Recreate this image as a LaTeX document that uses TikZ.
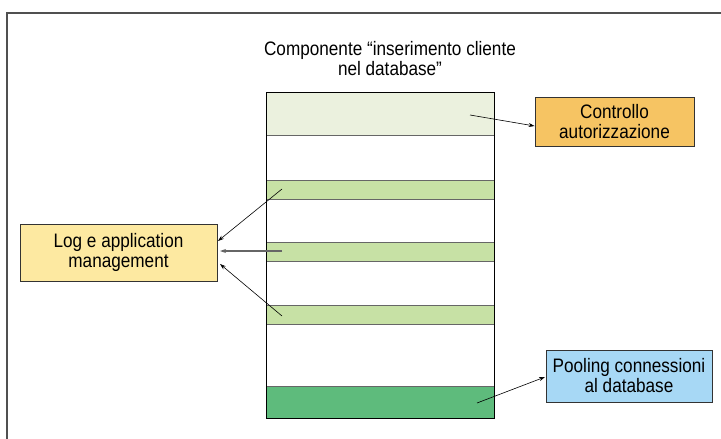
\documentclass[tikz,border=0pt]{standalone}
\usepackage{fontspec}
\setmainfont[FakeStretch=0.88]{Liberation Sans}
\usetikzlibrary{arrows.meta}
\definecolor{bandlight}{HTML}{EBF1DE}
\definecolor{bandgreen}{HTML}{C7E1A5}
\definecolor{banddark}{HTML}{5EBB7C}
\definecolor{boxorange}{HTML}{F6C463}
\definecolor{boxyellow}{HTML}{FDE9A1}
\definecolor{boxblue}{HTML}{A7D8F5}
\definecolor{framegray}{HTML}{505050}
\tikzset{
  txt/.style={font=\fontsize{19.5}{20}\selectfont},
  lbl/.style={txt, draw=black!80, line width=0.9pt, align=center, inner sep=0pt},
  band/.style={draw=black!60, line width=0.8pt},
  conn/.style={-{Stealth[length=6pt,width=4pt]}, line width=0.6pt},
}
\begin{document}
\begin{tikzpicture}[x=1pt,y=-1pt]
\useasboundingbox (0,0) rectangle (721,439);
% outer frame
\draw[framegray, line width=1.8pt] (7,445) -- (7,13) -- (730,13);
% title
\node[txt, align=center] (title) at (390,59) {Componente “inserimento cliente\\nel database”};
% column
\fill[white] (266,92) rectangle (494,418);
\draw[band, fill=bandlight] (266,92) rectangle (494,135);
\node[band, fill=bandgreen, minimum width=228pt, minimum height=19pt, inner sep=0pt] (b1) at (380,189.5) {};
\node[band, fill=bandgreen, minimum width=228pt, minimum height=19pt, inner sep=0pt] (b2) at (380,251.5) {};
\node[band, fill=bandgreen, minimum width=228pt, minimum height=19pt, inner sep=0pt] (b3) at (380,314.5) {};
\draw[band, fill=banddark] (266,386) rectangle (494,418);
\node[draw=black, line width=0.8pt, minimum width=228pt, minimum height=326pt, inner sep=0pt] (col) at (380,255) {};
% boxes
\node[lbl, fill=boxorange, minimum width=159pt, minimum height=49pt] (ctrl) at (614.5,121.5) {Controllo\\autorizzazione};
\node[lbl, fill=boxyellow, minimum width=197pt, minimum height=57pt] (log) at (118.5,252.5) {Log e application\\management};
\node[lbl, fill=boxblue, minimum width=166pt, minimum height=52pt] (pool) at (629,376) {Pooling connessioni\\al database};
% connectors
\coordinate (s0) at (470,115);
\coordinate (s1) at (282,189);
\coordinate (s2) at (282,251);
\coordinate (s3) at (282,316);
\coordinate (s4) at (477,403);
\draw[conn] (s0) -- (ctrl.west |- 0,126);
\draw[conn] (s1) -- (218,241);
\draw[conn, draw=black!60, line width=1.2pt] (s2) -- (220,251);
\draw[conn] (s3) -- (220,264);
\draw[conn] (s4) -- (545,377);
\end{tikzpicture}
\end{document}
